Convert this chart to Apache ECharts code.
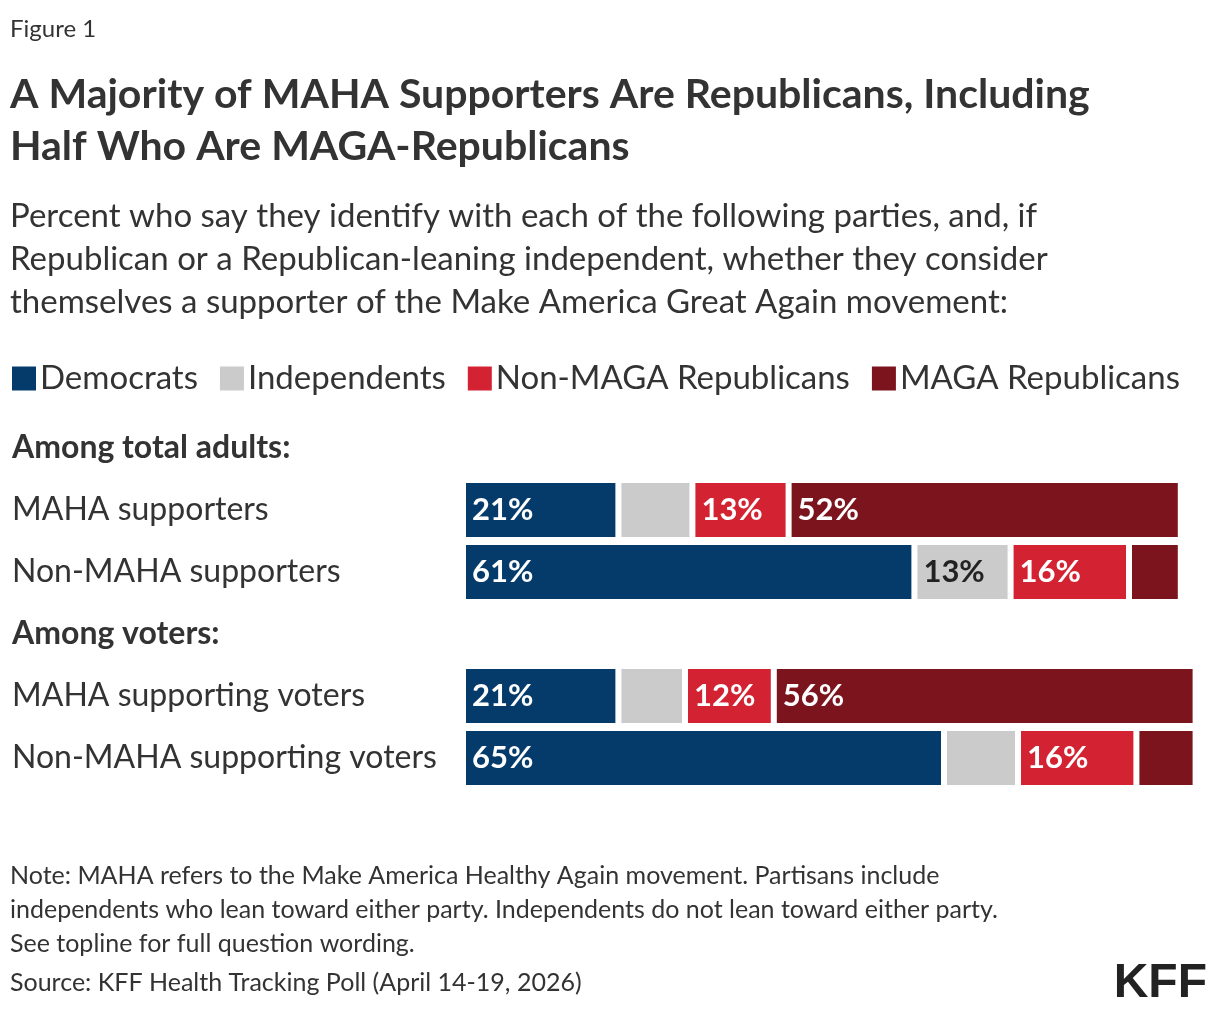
<!DOCTYPE html>
<html><head><meta charset="utf-8">
<script src="https://cdn.jsdelivr.net/npm/echarts@6/dist/echarts.min.js"></script>
<style>body{margin:0;background:#fff}#chart{width:1220px;height:1012px}</style>
</head><body><div id="chart"></div>
<script>
var categories = ['Among total adults:', 'MAHA supporters', 'Non-MAHA supporters', 'Among voters:', 'MAHA supporting voters', 'Non-MAHA supporting voters'];
var headers = ['Among total adults:', 'Among voters:'];
var democrats = ['-', 21, 61, '-', 21, 65];
var independents = ['-', 10, 13, '-', 9, 10];
var nonMaga = ['-', 13, 16, '-', 12, 16];
var maga = ['-', 53, 7, '-', 57, 8];
var labels = [[], ['21%', '', '13%', '52%'], ['61%', '13%', '16%', ''], [], ['21%', '', '12%', '56%'], ['65%', '', '16%', '']];
var font = 'Lato';

function seg(name, idx, data, color, textColor) {
  return {
    name: name, type: 'bar', stack: 'all', data: data, barWidth: 60,
    itemStyle: { color: color, borderColor: '#fff', borderWidth: 3 },
    label: {
      show: true, position: 'insideLeft', color: textColor, fontFamily: font,
      fontSize: 31, fontWeight: 'bold', offset: [4, 0],
      formatter: p => labels[p.dataIndex][idx] || ''
    }
  };
}

var chart = echarts.init(document.getElementById('chart'));
chart.setOption({
  animation: false,
  title: [
    { text: 'Figure 1', left: 5, top: 12, textStyle: { fontFamily: font, fontSize: 24, fontWeight: 'normal', color: '#333' } },
    { text: 'A Majority of MAHA Supporters Are Republicans, Including\nHalf Who Are MAGA-Republicans', left: 5, top: 64,
      textStyle: { fontFamily: font, fontSize: 41, fontWeight: 'bold', color: '#333', lineHeight: 52 } },
    { text: 'Percent who say they identify with each of the following parties, and, if\nRepublican or a Republican-leaning independent, whether they consider\nthemselves a supporter of the Make America Great Again movement:', left: 5, top: 190,
      textStyle: { fontFamily: font, fontSize: 33, fontWeight: 'normal', color: '#333', lineHeight: 43 } },
    { text: 'Note: MAHA refers to the Make America Healthy Again movement. Partisans include\nindependents who lean toward either party. Independents do not lean toward either party.\nSee topline for full question wording.', left: 5, top: 854,
      textStyle: { fontFamily: font, fontSize: 25, fontWeight: 'normal', color: '#333', lineHeight: 34 } },
    { text: 'Source: KFF Health Tracking Poll (April 14-19, 2026)', left: 5, top: 965,
      textStyle: { fontFamily: font, fontSize: 25, fontWeight: 'normal', color: '#333' } },
    { text: 'KFF', right: 8, top: 955, textStyle: { fontFamily: 'Liberation Sans', fontSize: 48, fontWeight: 'bold', color: '#222' } }
  ],
  legend: {
    left: 5, top: 357, itemWidth: 26, itemHeight: 26, itemGap: 20, icon: 'rect',
    textStyle: { fontFamily: font, fontSize: 33, color: '#333', padding: [0, 0, 0, -2] }
  },
  grid: { left: 463, right: 1220 - 463 - 740, top: 417, height: 372 },
  xAxis: { type: 'value', min: 0, max: 100, show: false },
  yAxis: {
    type: 'category', inverse: true, data: categories,
    axisLine: { show: false }, axisTick: { show: false },
    axisLabel: {
      align: 'left', margin: 451, fontFamily: font, fontSize: 32, color: '#333',
      formatter: v => headers.includes(v) ? '{h|' + v + '}' : v,
      rich: { h: { fontFamily: font, fontSize: 32, fontWeight: 'bold', color: '#333' } }
    }
  },
  series: [
    seg('Democrats', 0, democrats, '#043b6b', '#fff'),
    seg('Independents', 1, independents, '#cbcbcb', '#222'),
    seg('Non-MAGA Republicans', 2, nonMaga, '#d32232', '#fff'),
    seg('MAGA Republicans', 3, maga, '#7b141d', '#fff')
  ]
});
</script></body></html>
